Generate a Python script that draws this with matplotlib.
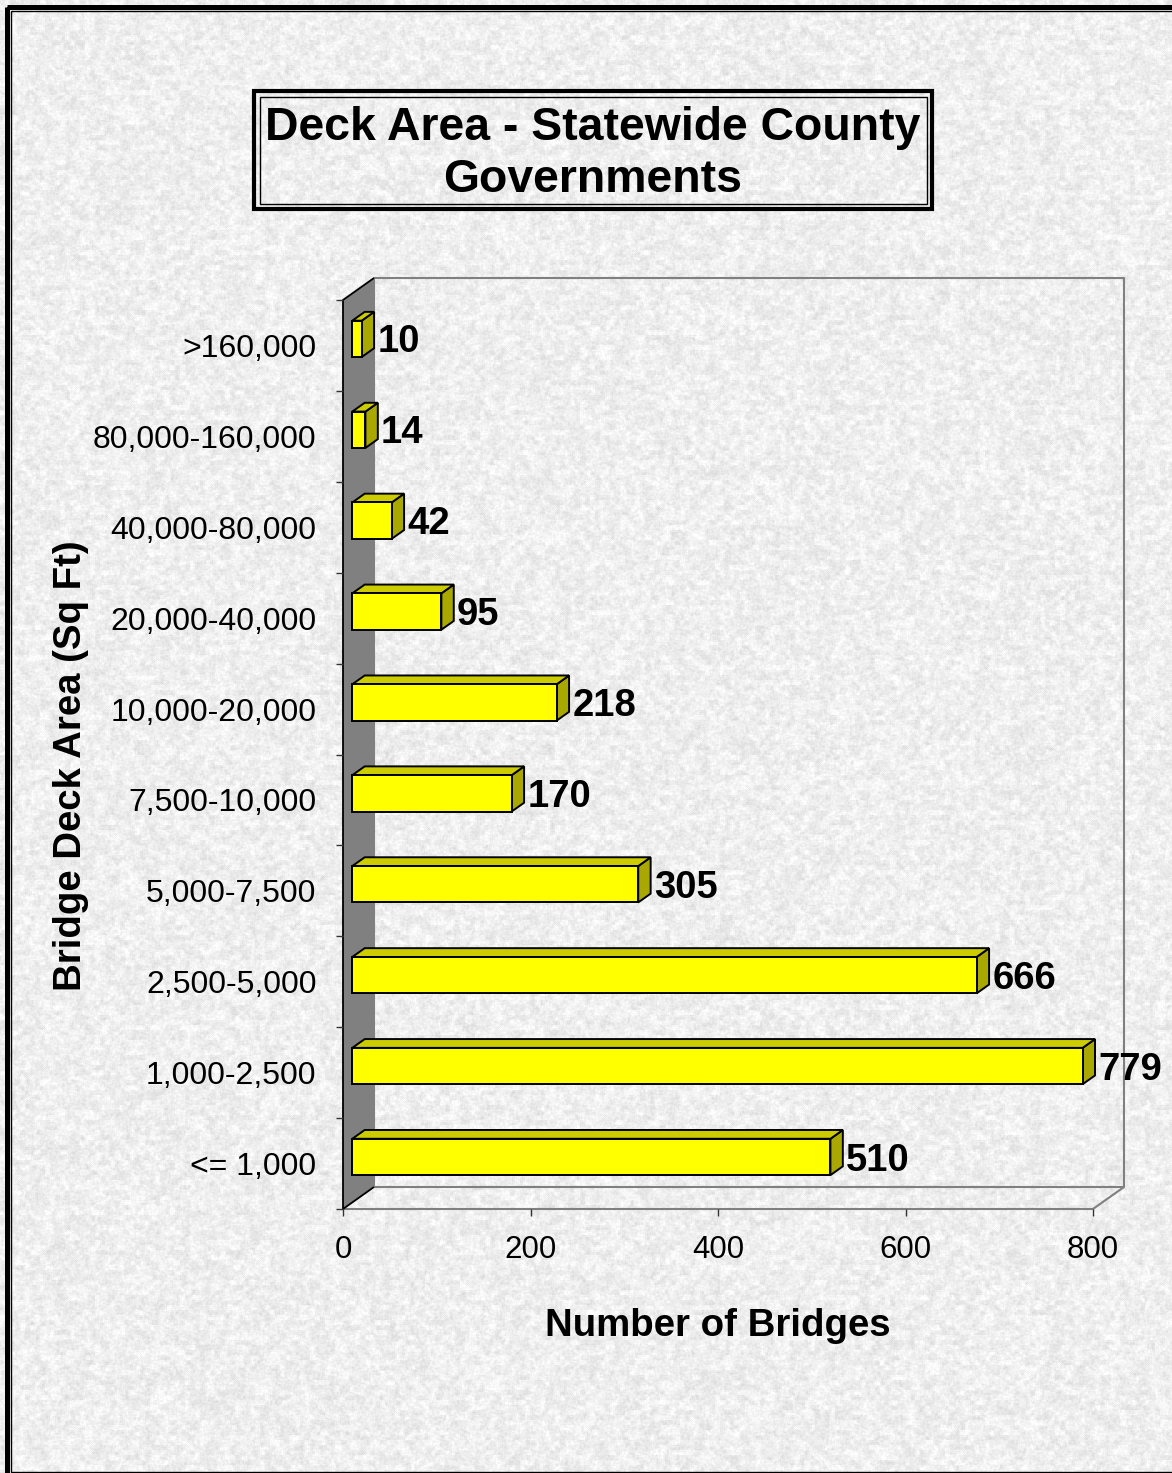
import matplotlib
matplotlib.use('Agg')
import matplotlib.pyplot as plt
import numpy as np
from matplotlib.patches import Polygon, Rectangle

plt.rcParams['font.family'] = ['Liberation Sans', 'DejaVu Sans']

# bridge counts per deck-area class, bottom row first
areas = ['<= 1,000', '1,000-2,500', '2,500-5,000', '5,000-7,500', '7,500-10,000',
         '10,000-20,000', '20,000-40,000', '40,000-80,000', '80,000-160,000', '>160,000']
bridges = [510, 779, 666, 305, 170, 218, 95, 42, 14, 10]
xticks = [0, 200, 400, 600, 800]

W, H = 1172, 1473
fig = plt.figure(figsize=(W / 100, H / 100), dpi=100)

# granite-ish backdrop
bg = fig.add_axes([0, 0, 1, 1])
bg.set_xlim(0, W)
bg.set_ylim(H, 0)
bg.axis('off')
rng = np.random.default_rng(7)
fine = rng.random((H, W))
sm = (fine + np.roll(fine, 1, 0) + np.roll(fine, 1, 1) + np.roll(fine, -1, 0) + np.roll(fine, -1, 1)) / 5
coarse = rng.random((H // 5 + 1, W // 5 + 1))
coarse = np.kron(coarse, np.ones((5, 5)))[:H, :W]
coarse = (coarse + np.roll(coarse, 2, 0) + np.roll(coarse, 2, 1) + np.roll(coarse, -2, 1)) / 4
tex = 0.935 + 0.14 * (sm - 0.5) + 0.09 * (coarse - 0.5)
bg.imshow(np.clip(tex, 0, 1), cmap='gray', vmin=0, vmax=1, extent=(0, W, H, 0),
          interpolation='bilinear', aspect='auto', zorder=0)

# outer frame
bg.add_patch(Rectangle((6.5, 6.5), W + 20, H - 2, fill=False, ec='black', lw=3.6))
bg.add_patch(Rectangle((11, 11), W + 20, H - 12, fill=False, ec='black', lw=1.0))

# title box
bg.add_patch(Rectangle((254, 91), 678, 118, fill=False, ec='black', lw=3.0))
bg.add_patch(Rectangle((259.5, 96.5), 667, 107, fill=False, ec='black', lw=1.0))
bg.text(593, 154, 'Deck Area - Statewide County\nGovernments', ha='center', va='center',
        fontsize=33.4, fontweight='bold', linespacing=1.25)

# plot area: front plane of the 3-D box
ax = fig.add_axes([343 / W, 1 - 1209 / H, 750 / W, 909 / H])
ax.set_xlim(0, 800)
ax.set_ylim(-0.5, 9.5)
ax.patch.set_alpha(0)
for s in ax.spines.values():
    s.set_visible(False)

DX = 31 / 0.9375   # depth offset in data units
DY = 22 / 90.9
f1, f2 = 0.3, 0.7  # bar front / back depth
half = 0.2
wall = '#808080'

def poly(pts, fc, ec='black', lw=1.4, z=2):
    ax.add_patch(Polygon(pts, closed=True, fc=fc, ec=ec, lw=lw, clip_on=False, zorder=z,
                         joinstyle='miter'))

def line(xs, ys, c=wall, lw=1.5, z=1):
    ax.plot(xs, ys, color=c, lw=lw, clip_on=False, zorder=z, solid_capstyle='butt')

# back wall and floor outlines
line([DX, DX, 800 + DX, 800 + DX, DX], [-0.5 + DY, 9.5 + DY, 9.5 + DY, -0.5 + DY, -0.5 + DY])
line([0, 800, 800 + DX], [-0.5, -0.5, -0.5 + DY])

# left side wall
poly([(0, -0.5), (0, 9.5), (DX, 9.5 + DY), (DX, -0.5 + DY)], wall, ec='none', z=1)
line([DX, 0, 0, DX], [9.5 + DY, 9.5, -0.5, -0.5 + DY], c='black', lw=1.3, z=1.5)

# bars
for i, v in enumerate(bridges):
    x0, x1 = f1 * DX, v + f1 * DX
    y0, y1 = i + f1 * DY - half, i + f1 * DY + half
    ddx, ddy = (f2 - f1) * DX, (f2 - f1) * DY
    poly([(x1, y0), (x1 + ddx, y0 + ddy), (x1 + ddx, y1 + ddy), (x1, y1)], '#A8A800')
    poly([(x0, y1), (x1, y1), (x1 + ddx, y1 + ddy), (x0 + ddx, y1 + ddy)], '#CCCC00')
    poly([(x0, y0), (x1, y0), (x1, y1), (x0, y1)], '#FFFF00')
    ax.text(x1 + ddx + 3.5, i + f1 * DY - 0.04, str(v), ha='left', va='center',
            fontsize=27.5, fontweight='bold', clip_on=False, zorder=3)

# axes ticks and labels
ax.set_xticks(xticks)
ax.set_xticklabels([str(t) for t in xticks], fontsize=22.5)
ax.tick_params(axis='x', direction='out', length=5, width=1, color='#333333', pad=14)
ax.set_yticks(range(len(areas)))
ax.set_yticklabels(areas, fontsize=23)
ax.tick_params(axis='y', length=0, pad=19)
ax.set_yticks(np.arange(-0.5, 10, 1), minor=True)
ax.tick_params(axis='y', which='minor', direction='out', length=5, width=1, color='#333333')

ax.set_xlabel('Number of Bridges', fontsize=27.6, fontweight='bold', labelpad=31)
ax.set_ylabel('Bridge Deck Area (Sq Ft)', fontsize=27.6, fontweight='bold', labelpad=3)
ax.yaxis.label.set_y(0.488)

fig.savefig('out.png', dpi=100)
